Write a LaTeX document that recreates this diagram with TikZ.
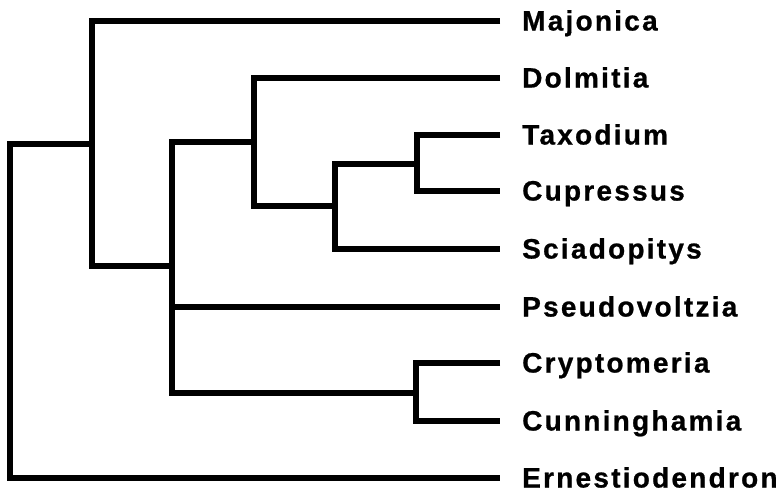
\documentclass[tikz,border=0pt]{standalone}
\usepackage{fontspec}
\setmainfont{Liberation Sans}[LetterSpace=8,BoldFeatures={FakeBold=0.8}]
\begin{document}
\begin{tikzpicture}[x=1pt,y=-1pt,
  branch/.style={line width=6pt,line join=miter,line cap=butt},
  taxon/.style={anchor=base west,inner sep=0pt,text depth=0pt,font=\fontsize{28}{30}\selectfont\bfseries}]
\useasboundingbox (0,0) rectangle (779,491);

% leaf tips
\coordinate (tMaj) at (500,21);
\coordinate (tDol) at (500,78);
\coordinate (tTax) at (500,135);
\coordinate (tCup) at (500,191);
\coordinate (tSci) at (500,249);
\coordinate (tPse) at (500,307);
\coordinate (tCry) at (500,363);
\coordinate (tCun) at (500,421);
\coordinate (tErn) at (500,478);

% internal nodes
\coordinate (root) at (10,144);
\coordinate (n1) at (92,144);
\coordinate (n2) at (172,266);
\coordinate (n3) at (254,142);
\coordinate (n4) at (335,206);
\coordinate (n5) at (417,164);
\coordinate (n6) at (416,393);

% branches
\draw[branch] (n1) -- (root) |- (tErn);
\draw[branch] (tMaj) -| (n1) |- (n2);
\draw[branch] (n3) -| (n2) |- (n6);
\draw[branch] (n2) |- (tPse);
\draw[branch] (tDol) -| (n3) |- (n4);
\draw[branch] (n5) -| (n4) |- (tSci);
\draw[branch] (tTax) -| (n5) |- (tCup);
\draw[branch] (tCry) -| (n6) |- (tCun);

% taxon labels
\node[taxon] (lMaj) at ([xshift=22pt,yshift=-9.5pt]tMaj) {Majonica};
\node[taxon] (lDol) at ([xshift=22pt,yshift=-9.5pt]tDol) {Dolmitia};
\node[taxon] (lTax) at ([xshift=22pt,yshift=-9.5pt]tTax) {Taxodium};
\node[taxon] (lCup) at ([xshift=22pt,yshift=-9.5pt]tCup) {Cupressus};
\node[taxon] (lSci) at ([xshift=22pt,yshift=-9.5pt]tSci) {Sciadopitys};
\node[taxon] (lPse) at ([xshift=22pt,yshift=-9.5pt]tPse) {Pseudovoltzia};
\node[taxon] (lCry) at ([xshift=22pt,yshift=-9.5pt]tCry) {Cryptomeria};
\node[taxon] (lCun) at ([xshift=22pt,yshift=-9.5pt]tCun) {Cunninghamia};
\node[taxon] (lErn) at ([xshift=22pt,yshift=-9.5pt]tErn) {Ernestiodendron};
\end{tikzpicture}
\end{document}
